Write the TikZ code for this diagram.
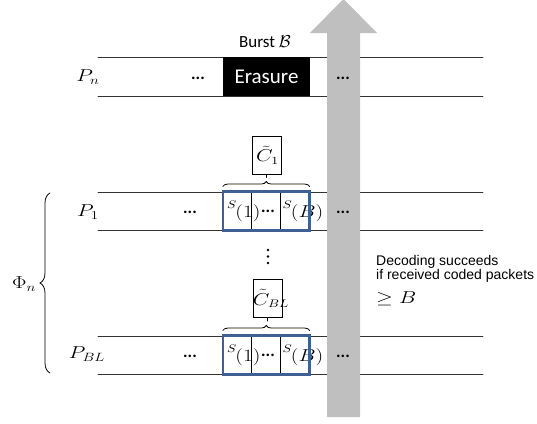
\documentclass[tikz,border=0pt]{standalone}
\usepackage{amsmath,amssymb}
\usepackage{graphicx}
\usepackage{fontspec}
\setsansfont{Carlito}
\newfontfamily\arialfont{Liberation Sans}
\usetikzlibrary{arrows.meta,decorations.pathreplacing}
\definecolor{cellblue}{RGB}{62,96,146}
\newcommand{\wide}[1]{\scalebox{1.25}[1]{$#1$}}

\begin{document}
\begin{tikzpicture}[x=1pt,y=-1pt,line cap=round,
  rowline/.style={draw=black!80,line width=0.8pt},
  cell/.style={draw=black,line width=0.9pt,minimum width=28.5,minimum height=38,inner sep=0},
  frame/.style={draw=cellblue,line width=2.5pt},
  codebox/.style={draw=black,line width=0.8pt,minimum width=29,minimum height=38,inner sep=0,
    font=\fontsize{16}{18}\selectfont},
  dots/.style={font=\sffamily\bfseries\fontsize{17}{20}\selectfont},
  lbl/.style={font=\fontsize{17}{20}\selectfont},
  sym/.style={font=\fontsize{16}{16}\selectfont,inner sep=0},
  curly/.style={decorate,decoration={brace,amplitude=#1},line width=0.8pt}]
\useasboundingbox (0,0) rectangle (537,423);

% packet rows
\draw[rowline] (98,57) -- (483,57);
\draw[rowline] (98,96) -- (483,96);
\draw[rowline] (98,192) -- (483,192);
\draw[rowline] (98,230) -- (483,230);
\draw[rowline] (98,336) -- (483,336);
\draw[rowline] (98,374) -- (483,374);

% row P_n with the burst
\node[lbl] (pn) at (88,77) {\wide{P_n}};
\node[dots] (pnl) at (198,78) {...};
\node[fill=black,text=white,minimum width=87,minimum height=39,inner sep=0,
  font=\sffamily\fontsize{21}{24}\selectfont] (erasure) at (266.5,76.5) {Erasure};
\node[font=\sffamily\fontsize{17}{20}\selectfont] (burst) at (265,42) {Burst $\mathcal{B}$};

% row P_1
\node[lbl] (p1) at (88,212) {\wide{P_1}};
\node[dots] (p1l) at (190,212) {...};
\node[cell] (c11) at (237.5,211) {};
\node[cell] (c12) at (266,211) {};
\node[cell] (c13) at (295,211) {};
\node[dots] at ([xshift=2]c12) {...};
\node[sym,anchor=west] (s11) at ([xshift=4]c11.west) {\wide{\scriptstyle S_{\textstyle(1)}}};
\node[sym,anchor=west] (s13) at ([xshift=2]c13.west) {\wide{\scriptstyle S_{\textstyle(B)}}};
\draw[frame] (c11.north west) rectangle (c13.south east);
\draw[curly=5] ([yshift=5]c11.north west) -- ([yshift=5]c13.north east) coordinate[pos=0.5] (b1);
\node[codebox] (code1) at (266.5,155) {\makebox[0pt]{\hspace{2pt}\wide{\tilde{C}_1}}};
\draw[line width=0.8pt] (code1.south) -- ([yshift=-3]code1.south);

% vertical dots
\foreach \y in {250,256.5,263} \fill (268,\y) circle (1.3pt);

% row P_BL
\node[lbl] (pbl) at (87,354) {\wide{P_{BL}}};
\node[dots] (pbll) at (190,356) {...};
\node[cell] (c21) at (237.5,355) {};
\node[cell] (c22) at (266,355) {};
\node[cell] (c23) at (295,355) {};
\node[dots] at ([xshift=2]c22) {...};
\node[sym,anchor=west] (s21) at ([xshift=4]c21.west) {\wide{\scriptstyle S_{\textstyle(1)}}};
\node[sym,anchor=west] (s23) at ([xshift=2]c23.west) {\wide{\scriptstyle S_{\textstyle(B)}}};
\draw[frame] (c21.north west) rectangle (c23.south east);
\draw[curly=5] ([yshift=5]c21.north west) -- ([yshift=5]c23.north east);
\node[codebox] (code2) at (267.5,298.5) {\makebox[0pt]{\hspace{7pt}\wide{\tilde{C}_{BL}}}};
\draw[line width=0.8pt] (code2.south) -- ([yshift=-3]code2.south);

% group brace
\draw[curly=10] (50,373) -- (50,193);
\node[lbl] (phi) at (24,284) {\wide{\Phi_n}};

% decoding arrow
\fill[black!25] (327,417) -- (327,33) -- (310,33) -- (343.5,-1) -- (377,33) -- (360,33) -- (360,417) -- cycle;
\node[dots] (pnr) at (343,78) {...};
\node[dots] (p1r) at (343,212) {...};
\node[dots] (pblr) at (343,356) {...};

\node[anchor=north west,align=left,inner sep=0,
  font=\arialfont\fontsize{14}{14}\selectfont] (note) at (376,255)
  {Decoding succeeds\\if received coded packets};
\node[anchor=west,inner sep=0,font=\fontsize{17}{18}\selectfont] (geq) at (376,299) {\wide{\geq B}};
\end{tikzpicture}
\end{document}
